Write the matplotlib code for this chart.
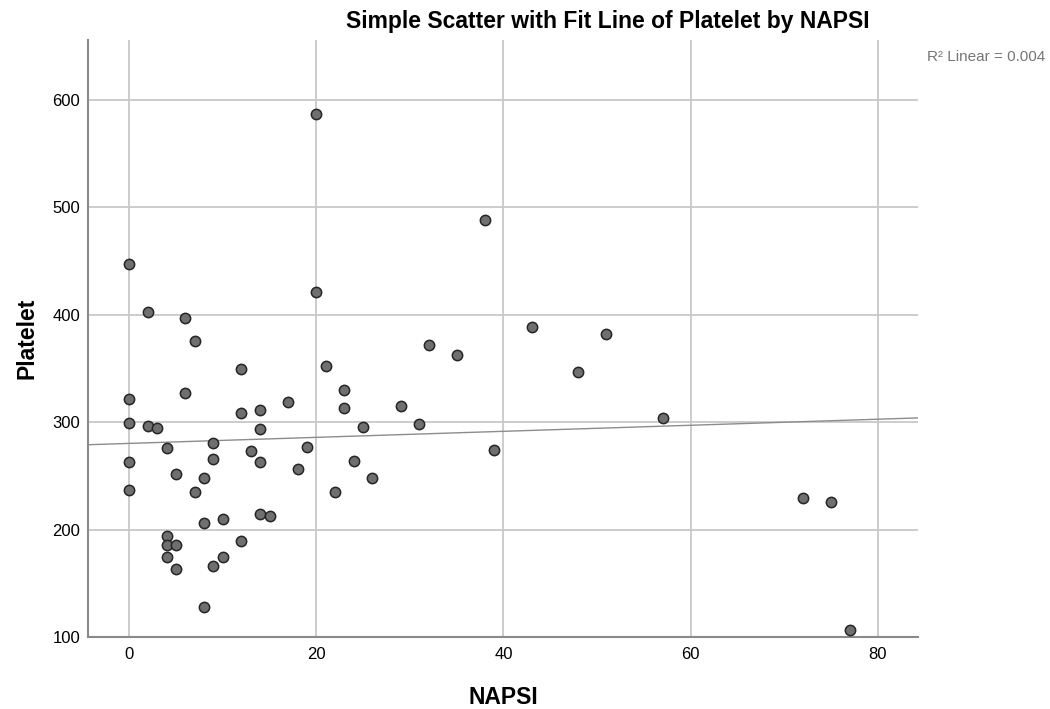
import numpy as np
import matplotlib
matplotlib.use("Agg")
import matplotlib.pyplot as plt

plt.rcParams['font.family'] = ['Liberation Sans', 'DejaVu Sans']

napsi = [0, 0, 0, 0, 0,
         2, 2, 3,
         4, 4, 4, 4,
         5, 5, 5,
         6, 6, 7, 7,
         8, 8, 8,
         9, 9, 9,
         10, 10,
         12, 12, 12,
         13,
         14, 14, 14, 14,
         15, 17, 18, 19,
         20, 20, 21, 22, 23, 23, 24, 25, 26, 29, 31, 32, 35, 38, 39,
         43, 48, 51, 57, 72, 75, 77]
platelet = [447, 322, 299, 263, 237,
            403, 297, 295,
            276, 194, 186, 175,
            252, 186, 164,
            397, 327, 376, 235,
            248, 206, 128,
            281, 266, 166,
            210, 175,
            350, 309, 190,
            273,
            311, 294, 263, 215,
            213, 319, 257, 277,
            587, 421, 352, 235, 330, 313, 264, 296, 248, 315, 298, 372, 363, 488, 274,
            389, 347, 382, 304, 230, 226, 107]

x_ticks = [0, 20, 40, 60, 80]
y_ticks = [100, 200, 300, 400, 500, 600]
r2_label = "R\u00b2 Linear = 0.004"

fig = plt.figure(figsize=(10.5, 7.09), dpi=100)
ax = fig.add_axes([0.0838, 0.1011, 0.7905, 0.8425])

xmin, xmax = -4.4, 84.3
ax.set_xlim(xmin, xmax)
ax.set_ylim(100, 655.6)

ax.set_xticks(x_ticks)
ax.set_yticks(y_ticks)
ax.grid(True, color='#c8c8c8', linewidth=1.3)
ax.set_axisbelow(True)
ax.tick_params(length=0, labelsize=12, colors='#000000')
ax.tick_params(axis='y', pad=5.5)
ax.tick_params(axis='x', pad=7)

for s in ['top', 'right']:
    ax.spines[s].set_visible(False)
for s in ['left', 'bottom']:
    ax.spines[s].set_color('#8a8a8a')
    ax.spines[s].set_linewidth(1.5)

# fit line
coef = np.polyfit(napsi, platelet, 1)
xs = np.array([xmin, xmax])
ax.plot(xs, np.polyval(coef, xs), color='#8c8c8c', linewidth=1.0, zorder=2)

ax.scatter(napsi, platelet, s=55, facecolor='#6f6f6f', edgecolor='#262626',
           linewidth=1.1, zorder=3, clip_on=False)

ax.set_xlabel('NAPSI', fontsize=16.5, fontweight='bold', labelpad=17)
ax.set_ylabel('Platelet', fontsize=16.5, fontweight='bold', labelpad=10)

fig.text(0.5786, 0.969, 'Simple Scatter with Fit Line of Platelet by NAPSI',
         ha='center', va='center', fontsize=16.5, fontweight='bold')
fig.text(0.9955, 0.9196, r2_label, ha='right', va='center', fontsize=11, color='#767676')

fig.savefig('out.png', dpi=100)
